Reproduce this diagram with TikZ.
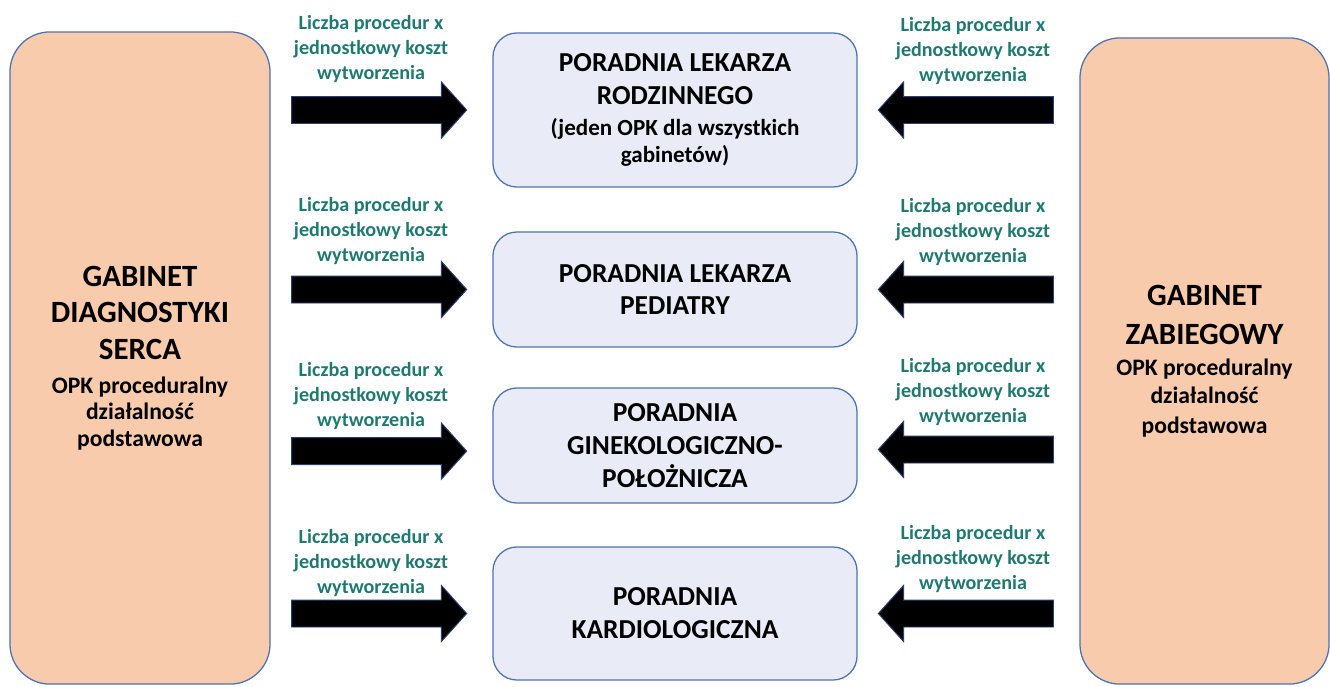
\documentclass[tikz,border=0pt]{standalone}
\usepackage{fontspec}
\setmainfont{Carlito}
\usetikzlibrary{positioning,shapes.arrows}
\definecolor{pomarancz}{RGB}{248,203,173}
\definecolor{szary}{RGB}{233,236,246}
\definecolor{ramka}{RGB}{76,114,180}
\definecolor{obwod}{RGB}{40,64,120}
\definecolor{morski}{RGB}{30,122,112}
\newcommand{\duzy}{\fontsize{22}{26}\selectfont}
\newcommand{\maly}{\fontsize{16.4}{19}\selectfont}

\begin{document}
\begin{tikzpicture}[
x=0.025cm, y=-0.025cm,
gabinet/.style={draw=ramka, fill=pomarancz, line width=0.9pt, rounded corners=1cm, align=center, font=\bfseries\fontsize{16.8}{19}\selectfont},
poradnia/.style={draw=ramka, fill=szary, line width=0.9pt, rounded corners=0.6cm, minimum width=9.1cm, align=center, font=\bfseries\fontsize{19.5}{23.4}\selectfont},
strzalka/.style={single arrow, draw=obwod, fill=black, line width=0.7pt, inner xsep=0pt, inner ysep=0.325cm, single arrow head extend=0.3625cm, single arrow tip angle=96, minimum height=4.375cm},
wlewo/.style={strzalka, shape border rotate=180},
opis/.style={align=center, text=morski, font=\bfseries\fontsize{14.3}{17.8}\selectfont}
]
\useasboundingbox (0,0) rectangle (1330,686);

% skrajne gabinety
\node[gabinet, minimum width=6.5cm, minimum height=16.3cm] (serce) at (140,358)
  {{\duzy GABINET}\\[7pt]{\duzy DIAGNOSTYKI}\\[7pt]{\duzy SERCA}\\[5pt]OPK proceduralny\\działalność\\podstawowa};
\node[gabinet, minimum width=6.225cm, minimum height=16.15cm] (zabieg) at (1204.5,361)
  {{\duzy GABINET}\\[9pt]{\duzy ZABIEGOWY}\\[3pt]OPK proceduralny\\[1pt]działalność\\[2pt]podstawowa};

% poradnie
\node[poradnia, minimum height=3.85cm] (rodzinny) at (675,110)
  {PORADNIA LEKARZA\\RODZINNEGO\\[-1pt]{\maly (jeden OPK dla wszystkich}\\[-4pt]{\maly gabinetów)}};
\node[poradnia, minimum height=2.875cm] (pediatra) at (675,289.5) {PORADNIA LEKARZA\\PEDIATRY};
\node[poradnia, minimum height=2.875cm] (ginekolog) at (675,445.5) {PORADNIA\\GINEKOLOGICZNO-\\POŁOŻNICZA};
\node[poradnia, minimum height=3.325cm] (kardiolog) at (675,613.5) {PORADNIA\\KARDIOLOGICZNA};

% strzalki
\node[strzalka, left=0.625cm of rodzinny] (s1) {};
\node[strzalka, left=0.625cm of pediatra] (s2) {};
\node[strzalka, left=0.625cm of ginekolog, yshift=-0.14cm] (s3) {};
\node[strzalka, left=0.625cm of kardiolog] (s4) {};
\node[wlewo, right=0.5cm of rodzinny] (z1) {};
\node[wlewo, right=0.5cm of pediatra] (z2) {};
\node[wlewo, right=0.5cm of ginekolog, yshift=-0.1cm] (z3) {};
\node[wlewo, right=0.5cm of kardiolog] (z4) {};

% opisy
\node[opis] (o1) at (371,49) {Liczba procedur x\\jednostkowy koszt\\wytworzenia};
\node[opis] (o2) at (371,231) {Liczba procedur x\\jednostkowy koszt\\wytworzenia};
\node[opis] (o3) at (371,396) {Liczba procedur x\\jednostkowy koszt\\wytworzenia};
\node[opis] (o4) at (371,563) {Liczba procedur x\\jednostkowy koszt\\wytworzenia};
\node[opis] (p1) at (973,51) {Liczba procedur x\\jednostkowy koszt\\wytworzenia};
\node[opis] (p2) at (973,232) {Liczba procedur x\\jednostkowy koszt\\wytworzenia};
\node[opis] (p3) at (973,392) {Liczba procedur x\\jednostkowy koszt\\wytworzenia};
\node[opis] (p4) at (973,559) {Liczba procedur x\\jednostkowy koszt\\wytworzenia};
\end{tikzpicture}
\end{document}
